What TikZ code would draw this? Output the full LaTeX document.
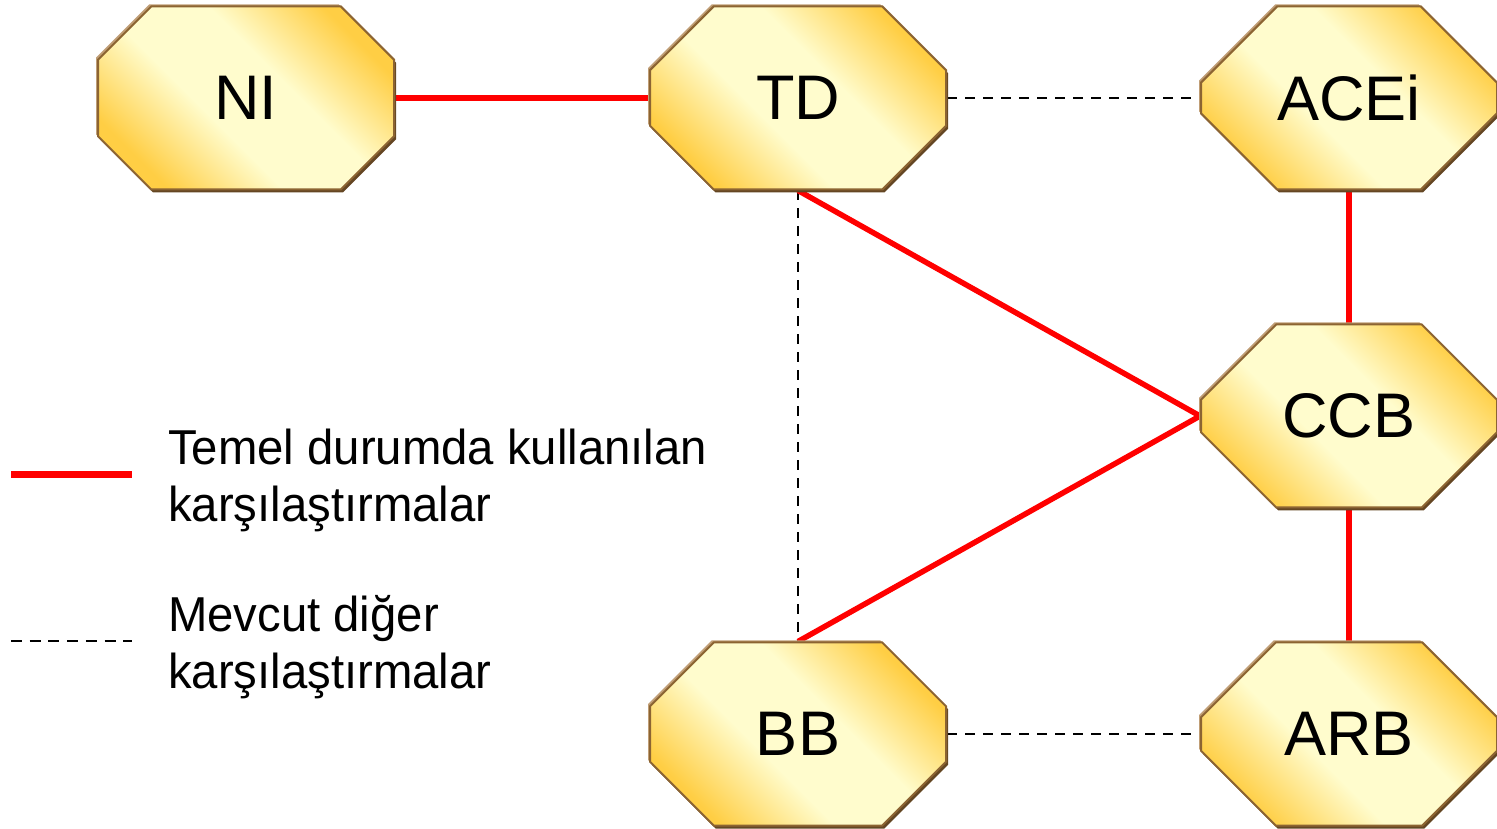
\documentclass[tikz,border=0pt]{standalone}
\usepackage{fontspec}
\setmainfont{Liberation Sans}
\newfontfamily\legendfont{Liberation Sans}[FakeStretch=0.965]
\usetikzlibrary{shapes.misc,shadows,backgrounds}
\definecolor{gold}{RGB}{255,206,68}
\definecolor{cream}{RGB}{255,252,205}
\definecolor{edge}{RGB}{140,100,50}
\definecolor{darkedge}{RGB}{100,70,35}
\definecolor{lightedge}{RGB}{192,158,118}
\definecolor{redline}{RGB}{255,0,0}
\pgfdeclareverticalshading{octshade}{100bp}{color(0bp)=(gold); color(25bp)=(gold); color(42bp)=(cream); color(58bp)=(cream); color(75bp)=(gold); color(100bp)=(gold)}
\tikzset{
 octo/.style={chamfered rectangle, chamfered rectangle xsep=54pt, chamfered rectangle ysep=53pt,
   minimum width=296pt, minimum height=183pt, inner sep=0pt, draw=edge, line width=2pt,
   shading=octshade, shading angle=-45,
   general shadow={fill=darkedge, shadow xshift=2pt, shadow yshift=-3pt},
   general shadow={fill=lightedge, shadow xshift=-2pt, shadow yshift=2pt},
   font=\fontsize{63}{70}\selectfont},
 mainline/.style={draw=redline, line width=5.5pt},
 otherline/.style={draw=black, line width=2.5pt, dash pattern=on 10pt off 8pt},
 legendtext/.style={anchor=base west, align=left, inner sep=0pt, font=\legendfont\fontsize{49}{57}\selectfont},
}
\begin{document}
\begin{tikzpicture}[x=1pt,y=1pt]
\useasboundingbox (0,0) rectangle (1497,828);
\node[octo] (NI) at (246,730) {NI};
\node[octo] (TD) at (798,730) {TD};
\node[octo] (ACEi) at (1349,730) {ACEi};
\node[octo] (CCB) at (1349,412) {CCB};
\node[octo] (BB) at (798,94) {BB};
\node[octo] (ARB) at (1349,94) {ARB};
\begin{scope}[on background layer]
\draw[mainline] (NI.east) -- (TD.west);
\draw[otherline] (TD.east) -- (ACEi.west);
\draw[otherline] (TD.south) -- (BB.north);
\draw[mainline] (TD.south) -- (CCB.west) -- (BB.north);
\draw[mainline] (ACEi.south) -- (CCB.north);
\draw[mainline] (CCB.south) -- (ARB.north);
\draw[otherline] (BB.east) -- (ARB.west);
\end{scope}
\coordinate (la1) at (11,353);
\coordinate (lb1) at (132,353);
\coordinate (la2) at (11,187);
\coordinate (lb2) at (132,187);
\draw[mainline, line width=7pt] (la1) -- (lb1);
\draw[otherline, dash pattern=on 11pt off 7.7pt] (la2) -- (lb2);
\node[legendtext] (t1) at (168,306) {Temel durumda kullanılan\\karşılaştırmalar};
\node[legendtext] (t2) at (168,140) {Mevcut diğer\\karşılaştırmalar};
\end{tikzpicture}
\end{document}
